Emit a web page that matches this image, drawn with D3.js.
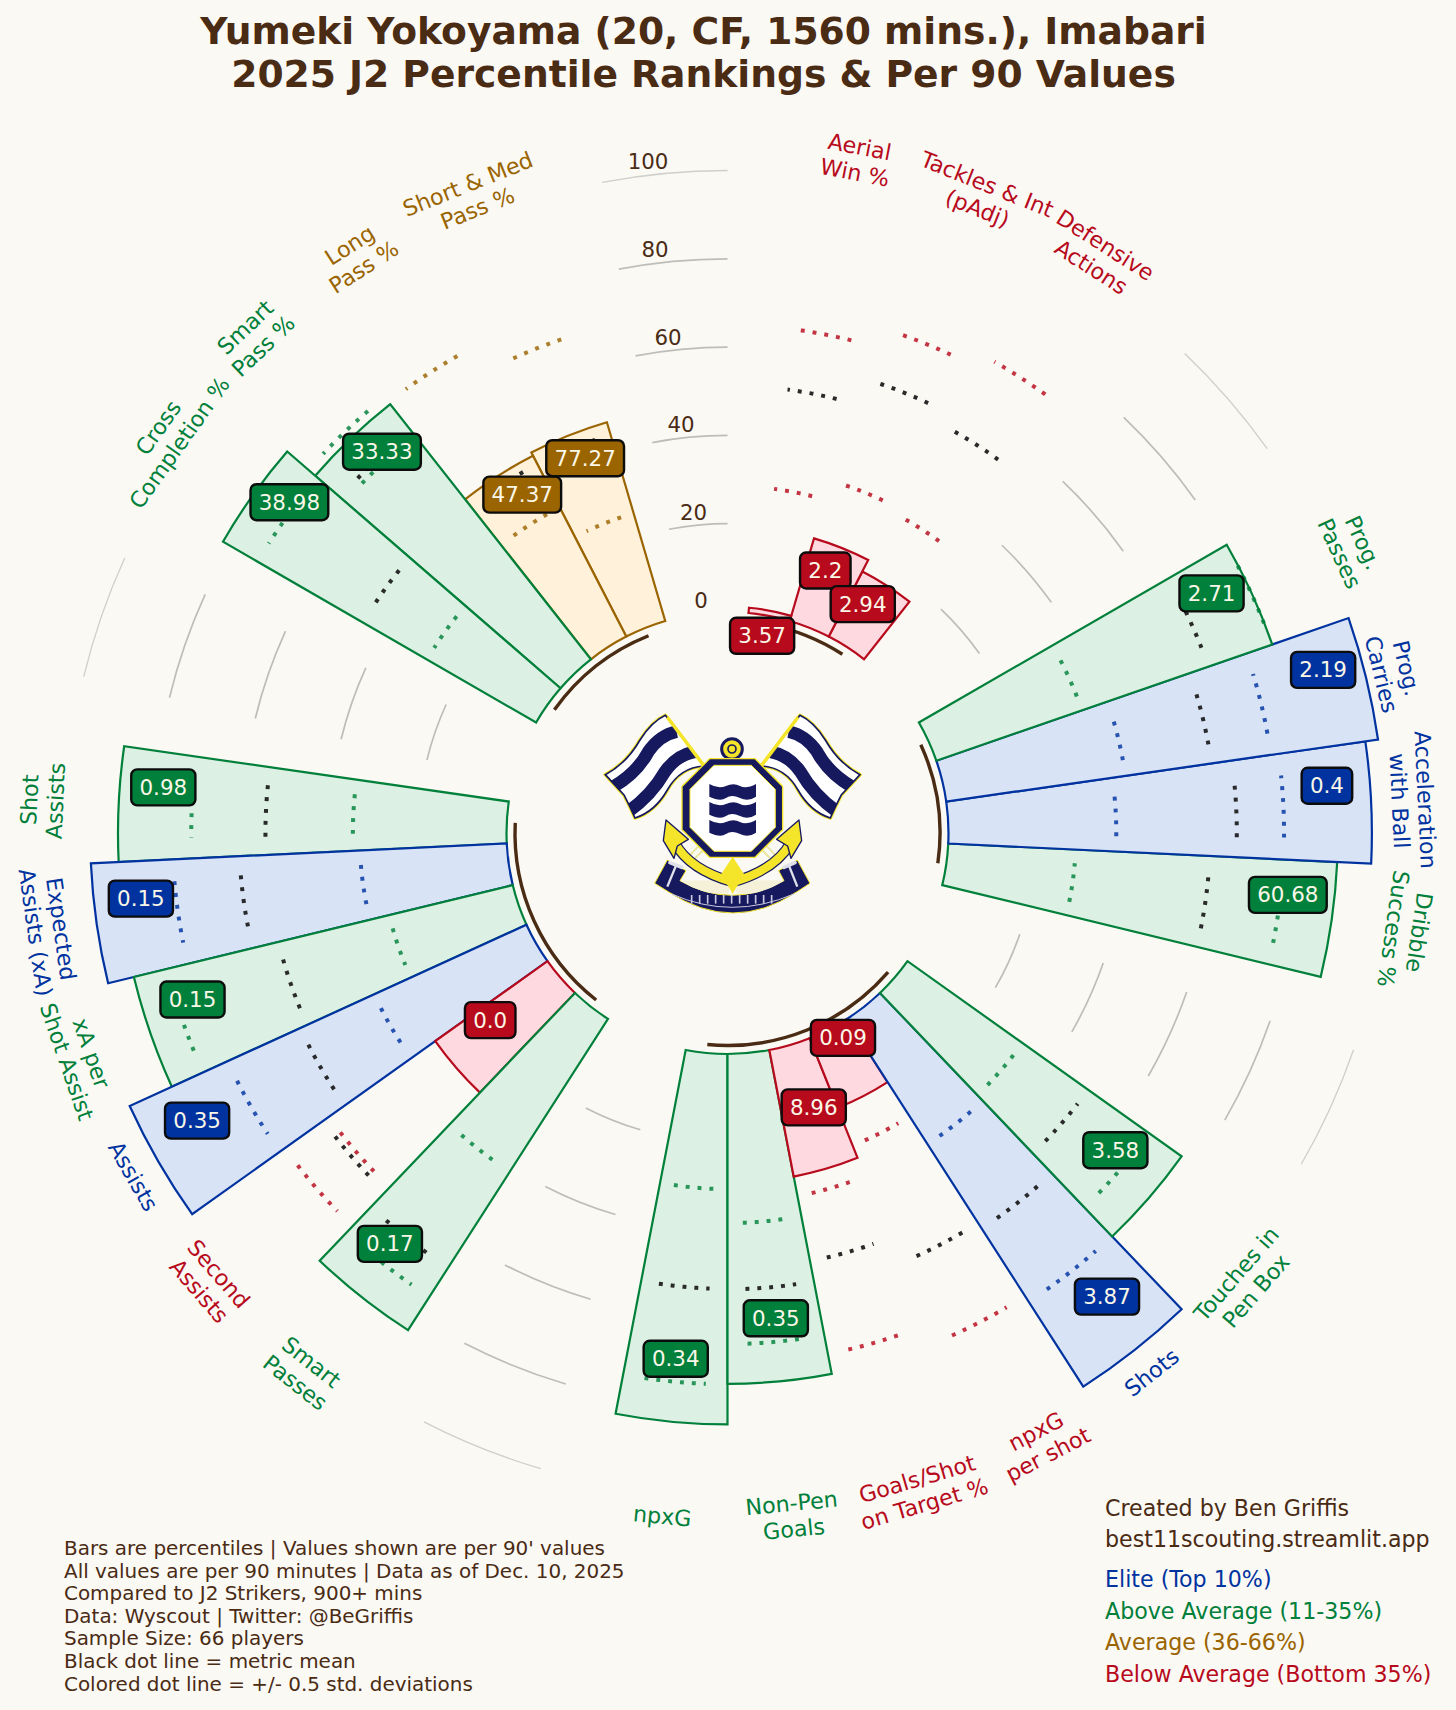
<!DOCTYPE html>
<html><head><meta charset="utf-8">
<script src="https://d3js.org/d3.v7.min.js"></script>
<style>html,body{margin:0;padding:0;background:#fbf9f4}svg{display:block}text{font-family:"DejaVu Sans",sans-serif}</style>
</head><body><svg id="c" width="1456" height="1710"></svg>
<script>
// ---- data (clockwise from the top) ----
const titleLines = ["Yumeki Yokoyama (20, CF, 1560 mins.), Imabari","2025 J2 Percentile Rankings & Per 90 Values"];
const groupSizes = [3,4,6,6,4];
const categories = ["Aerial\nWin %","Tackles & Int\n(pAdj)","Defensive\nActions","Prog.\nPasses","Prog.\nCarries","Acceleration\nwith Ball","Dribble\nSuccess %","Touches in\nPen Box","Shots","npxG\nper shot","Goals/Shot\non Target %","Non-Pen\nGoals","npxG","Smart\nPasses","Second\nAssists","Assists","xA per\nShot Assist","Expected\nAssists (xA)","Shot\nAssists","Cross\nCompletion %","Smart\nPass %","Long\nPass %","Short & Med\nPass %"];
const percentiles = [1.2,19.5,16.6,80.5,98.8,95.9,88.2,76.2,99,17,29.2,74.7,83.9,83.8,31.2,98.8,88.3,94.3,88,81.9,73.5,46.1,46.9];
const per90 = ["3.57","2.2","2.94","2.71","2.19","0.4","60.68","3.58","3.87","0.09","8.96","0.35","0.34","0.17","0.0","0.35","0.15","0.15","0.98","38.98","33.33","47.37","77.27"];
const lowLine = [28.6,33.1,31.6,34.9,41,38,28.9,31.95,33.7,26.2,33.7,38.3,30.6,41.1,60.8,37.9,28.8,33.3,34.8,28.5,64.5,32.9,25.4];
const meanLine = [51.3,57.4,54.4,65.2,60.7,65.3,59.3,50.2,56.4,54.9,48.7,53.3,53.2,66.9,62.3,56.3,54.6,60.6,54.6,45.2,66,43.9,43.9];
const highLine = [65,69.5,72.6,80.4,74.3,76,76,67.1,76.1,74.6,70.1,65.7,74.8,74.8,73,74.4,80.5,75.7,71.4,72.8,75.5,74.1,67.9];
const rTicks = [0,20,40,60,80,100];
const footnotes = ["Bars are percentiles | Values shown are per 90' values","All values are per 90 minutes | Data as of Dec. 10, 2025","Compared to J2 Strikers, 900+ mins","Data: Wyscout | Twitter: @BeGriffis","Sample Size: 66 players","Black dot line = metric mean","Colored dot line = +/- 0.5 std. deviations"];
const credits = ["Created by Ben Griffis","best11scouting.streamlit.app"];
const legendLabels = ["Elite (Top 10%)","Above Average (11-35%)","Average (36-66%)","Below Average (Bottom 35%)"];

// ---- styles ----
const BG="#fbf9f4", INK="#4a2b14";
const tierStroke = d3.scaleThreshold().domain([35,65,90]).range(["#b70a1c","#9a6400","#00803a","#0033a0"]);
const tierFill = d3.scaleThreshold().domain([35,65,90]).range(["#fedae0","#fff1da","#dcf0e3","#d9e3f6"]);
const legendColors = ["#0033a0","#00803a","#9a6400","#b70a1c"];
const tickNudge = [0,2.6,0,-3,-6,-3];
const cx=727.5, cy=833;
const svg=d3.select("#c");
svg.append("rect").attr("width",1456).attr("height",1710).attr("fill",BG);
const g=svg.append("g").attr("transform",`translate(${cx},${cy})`);
const R=d3.scaleLinear().domain([0,100]).range([221,662.5]);
const slot=2*Math.PI/33, deg=Math.PI/180;

// slots: two empty slots between groups, first bar half a slot past north
let pos=0.5, starts=[], groupSpans=[], gaps=[];
groupSizes.forEach(n=>{ groupSpans.push([pos+0.5,pos+n-0.5]); for(let i=0;i<n;i++)starts.push(pos+i); pos+=n; gaps.push(pos+1); pos+=2; });
const bars=categories.map((c,i)=>({c,i,pct:percentiles[i],val:per90[i],a0:starts[i]*slot,a1:(starts[i]+1)*slot,mid:(starts[i]+.5)*slot}));
const polar=(a,r)=>[r*Math.sin(a),-r*Math.cos(a)];

// grid arcs in the gaps
const arc=d3.arc();
gaps.forEach(s=>{ rTicks.slice(1).forEach(t=>{
  g.append("path").attr("d",arc({innerRadius:R(t),outerRadius:R(t),startAngle:(s-.5)*slot,endAngle:(s+.5)*slot}))
   .attr("fill","none").attr("stroke",t===100?"#cfcfcb":"#bdbdba").attr("stroke-width",t===100?1.3:1.7);
});});
rTicks.forEach((t,i)=>{ const p=polar(-6.5*deg,R(t)+13.2);
  g.append("text").attr("x",p[0]+tickNudge[i]).attr("y",p[1]).attr("text-anchor","middle").attr("dominant-baseline","central").attr("font-size",21.3).attr("fill",INK).text(t);
});

// bars: earlier (clockwise) bars sit on top
bars.slice().reverse().forEach(b=>{
  g.append("path").attr("d",arc({innerRadius:R(0),outerRadius:R(b.pct),startAngle:b.a0,endAngle:b.a1}))
   .attr("fill",tierFill(b.pct)).attr("stroke",tierStroke(b.pct)).attr("stroke-width",2.2).attr("stroke-linejoin","miter");
});
// group arcs
groupSpans.forEach(([s,e])=>{
  g.append("path").attr("d",arc({innerRadius:212.5,outerRadius:212.5,startAngle:s*slot,endAngle:e*slot}))
   .attr("fill","none").attr("stroke",INK).attr("stroke-width",3.4);
});
// dotted lines
const half=3.2*deg;
const dotted=(b,v,color,op)=>{
  const path=d3.lineRadial().angle(d=>d).radius(R(v))(d3.range(0,21).map(k=>b.mid+half-k*(2*half)/20));
  g.append("path").attr("d",path).attr("fill","none").attr("stroke",color).attr("stroke-opacity",op).attr("stroke-width",4).attr("stroke-dasharray","3.9 8");
};
bars.forEach(b=>{
  const col=tierStroke(b.pct);
  dotted(b,lowLine[b.i],col,.82); dotted(b,highLine[b.i],col,.82); dotted(b,meanLine[b.i],"#1f1f1f",.95);
});
// value boxes
bars.forEach(b=>{
  const p=polar(b.mid,R(b.pct)-44.5); const x=p[0]+.2, y=p[1]-18.7;
  const bg=g.append("g").attr("transform",`translate(${x},${y})`);
  const rect=bg.append("rect").attr("fill",tierStroke(b.pct)).attr("stroke","#0c0c0c").attr("stroke-width",2.4);
  const t=bg.append("text").attr("text-anchor","middle").attr("dominant-baseline","central").attr("font-size",21.4).attr("fill","#fbf7e8").text(b.val);
  const w=t.node().getComputedTextLength()+16.5;
  rect.attr("x",-w/2).attr("y",-18).attr("width",w).attr("height",36).attr("rx",6);
});
// category labels
bars.forEach(b=>{
  const th=b.mid/deg; const rot=(th<110||th>262)?th:th-180;
  const p=polar(b.mid,686);
  const lines=b.c.split("\n");
  const t=g.append("text").attr("transform",`translate(${p[0]},${p[1]}) rotate(${rot})`).attr("text-anchor","middle").attr("font-size",22.2).attr("fill",tierStroke(b.pct));
  lines.forEach((l,k)=>t.append("tspan").attr("x",0).attr("y",(k-(lines.length-1)/2)*26).attr("dominant-baseline","central").text(l));
});
// title + notes
titleLines.forEach((l,i)=>svg.append("text").attr("x",703.5).attr("y",31+i*42.5).attr("text-anchor","middle").attr("dominant-baseline","central").attr("font-size",37.65).attr("font-weight","bold").attr("fill",INK).text(l));
footnotes.forEach((l,i)=>svg.append("text").attr("x",64).attr("y",1548+i*22.6).attr("dominant-baseline","central").attr("font-size",19.95).attr("fill",INK).text(l));
credits.forEach((l,i)=>svg.append("text").attr("x",1105).attr("y",1507.5+i*31).attr("dominant-baseline","central").attr("font-size",22.15).attr("fill",INK).text(l));
legendLabels.forEach((l,i)=>svg.append("text").attr("x",1105).attr("y",1579+i*31.6).attr("dominant-baseline","central").attr("font-size",22.15).attr("fill",legendColors[i]).text(l));

// ---- club crest (decorative) ----
const NAVY="#16195e", YEL="#f4e52a";
const L=svg.append("g").attr("transform","translate(580,680) scale(.3333)");
const defs=svg.append("defs");
const flagD="M76 284 Q140 250 180 180 Q215 125 256 106 L372 258 Q300 262 262 330 Q225 395 165 414 Q150 380 132 345 Z";
defs.append("clipPath").attr("id","fc").append("path").attr("d",flagD);
function flag(par){
  par.append("path").attr("d",flagD).attr("fill","#fff").attr("stroke",YEL).attr("stroke-width",11).attr("stroke-linejoin","round");
  par.append("path").attr("d",flagD).attr("fill","#fff").attr("stroke",NAVY).attr("stroke-width",5);
  const s=par.append("g").attr("clip-path","url(#fc)").attr("fill","none").attr("stroke",NAVY).attr("stroke-width",38);
  s.append("path").attr("d","M100 320 Q170 280 205 215 Q240 165 290 155");
  s.append("path").attr("d","M145 395 Q215 345 255 275 Q290 225 345 215");
  par.append("path").attr("d","M262 112 L372 258").attr("stroke",YEL).attr("stroke-width",10);
  par.append("path").attr("d","M330 525 L366 488 M345 535 L380 500").attr("stroke","#e8e6a0").attr("stroke-width",6);
}
flag(L.append("g")); flag(L.append("g").attr("transform","translate(916,0) scale(-1,1)"));
// ribbon
L.append("path").attr("d","M262 540 L318 572 L300 602 Q455 690 612 602 L596 572 L652 540 L690 610 L650 636 Q460 762 266 636 L224 610 Z").attr("fill",NAVY).attr("stroke",YEL).attr("stroke-width",3);
L.append("path").attr("d","M300 602 Q380 650 445 640 L458 600 Z M612 602 Q535 650 470 640 L458 600 Z").attr("fill","#f4f1d8");
L.append("path").attr("d","M290 552 L262 620 M625 552 L652 620").attr("stroke","#dfe0ea").attr("stroke-width",7);
L.append("path").attr("d","M270 548 L305 562 M645 548 L612 562").attr("stroke","#dfe0ea").attr("stroke-width",11).attr("stroke-linecap","round");
L.append("path").attr("d","M275 642 Q455 722 642 642").attr("fill","none").attr("stroke","#c8c8e0").attr("stroke-width",3);
d3.range(335,585,24).forEach(x=>L.append("path").attr("d",`M${x} 645 l0 26`).attr("stroke","#c8c8e0").attr("stroke-width",5));
// anchor
L.append("path").attr("d","M285 490 Q330 570 458 606 Q586 570 631 490").attr("fill","none").attr("stroke",NAVY).attr("stroke-width",32);
L.append("path").attr("d","M285 490 Q330 570 458 606 Q586 570 631 490").attr("fill","none").attr("stroke",YEL).attr("stroke-width",25);
L.append("path").attr("d","M258 420 L325 478 L292 498 L282 535 L250 482 Z M657 420 L590 478 L623 498 L633 535 L665 482 Z").attr("fill",YEL).attr("stroke",NAVY).attr("stroke-width",4).attr("stroke-linejoin","round");
L.append("path").attr("d","M458 530 L420 588 Q445 615 458 642 Q471 615 496 588 Z").attr("fill",YEL);
// ring
L.append("circle").attr("cx",456).attr("cy",207).attr("r",31).attr("fill",YEL).attr("stroke",NAVY).attr("stroke-width",9);
L.append("circle").attr("cx",456).attr("cy",207).attr("r",12).attr("fill",YEL).attr("stroke",NAVY).attr("stroke-width",5);
// octagon
const oct=(a,b,c,d,k)=>`M${a+k} ${c} L${b-k} ${c} L${b} ${c+k} L${b} ${d-k} L${b-k} ${d} L${a+k} ${d} L${a} ${d-k} L${a} ${c+k} Z`;
L.append("path").attr("d",oct(304,610,234,534,84)).attr("fill",YEL);
L.append("path").attr("d",oct(308,606,238,530,82)).attr("fill",NAVY);
L.append("path").attr("d",oct(330,586,256,514,72)).attr("fill","#fff").attr("stroke",YEL).attr("stroke-width",3);
[312,366,420].forEach(y=>{
  L.append("path").attr("d",`M388 ${y} Q415 ${y+16} 438 ${y+6} T480 ${y+6} T528 ${y} L528 ${y+38} Q505 ${y+54} 480 ${y+42} T438 ${y+42} T388 ${y+38} Z`).attr("fill",NAVY);
});
</script></body></html>
